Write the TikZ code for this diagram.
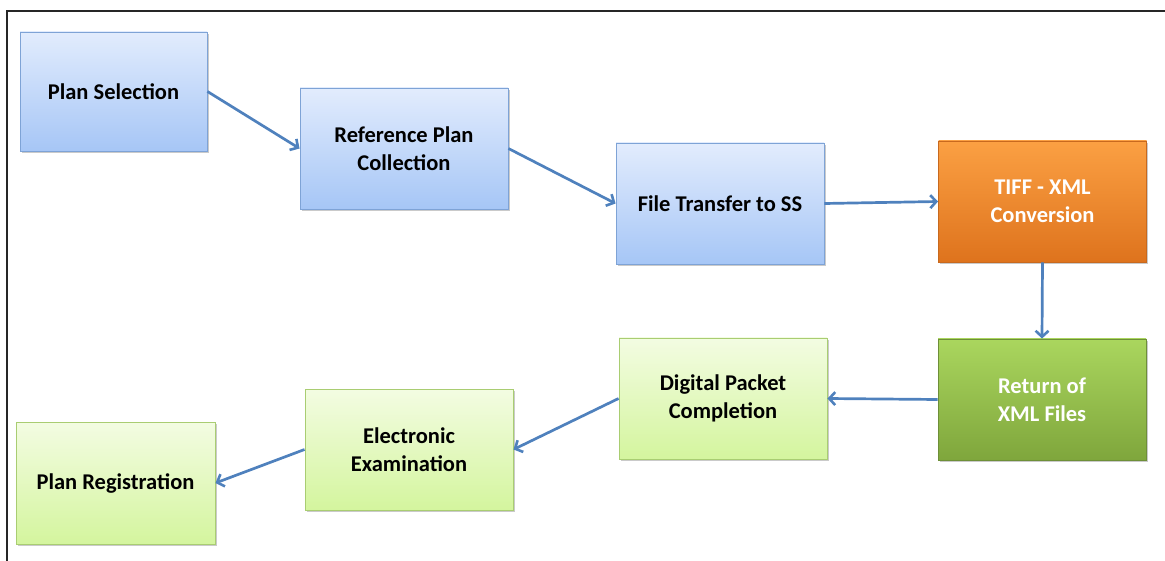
\documentclass[tikz,border=0pt]{standalone}
\usepackage{fontspec}
\setmainfont{Carlito}
\usetikzlibrary{arrows.meta,shadows}
\definecolor{flowblue}{HTML}{4F81BD}
\definecolor{bluetop}{HTML}{E2ECFD}
\definecolor{bluebot}{HTML}{A6C6F6}
\definecolor{blueedge}{HTML}{7EA3D6}
\definecolor{orangetop}{HTML}{FBA043}
\definecolor{orangebot}{HTML}{DE731D}
\definecolor{orangeedge}{HTML}{C8691E}
\definecolor{greentop}{HTML}{AAD65E}
\definecolor{greenbot}{HTML}{7FA63C}
\definecolor{greenedge}{HTML}{6E8F38}
\definecolor{limetop}{HTML}{F3FCE2}
\definecolor{limebot}{HTML}{D4F59E}
\definecolor{limeedge}{HTML}{A9CD72}
\tikzset{
  stage/.style={rectangle, minimum width=208pt, minimum height=121pt, inner sep=0pt,
    line width=0.9pt, align=center, font=\fontsize{22.5}{28}\selectfont\bfseries,
    drop shadow={shadow xshift=1.5pt, shadow yshift=-2pt, opacity=0.35, fill=black!60}},
  bluestage/.style={stage, draw=blueedge, top color=bluetop, bottom color=bluebot, text=black},
  orangestage/.style={stage, draw=orangeedge, top color=orangetop, bottom color=orangebot, text=white},
  greenstage/.style={stage, draw=greenedge, top color=greentop, bottom color=greenbot, text=white},
  limestage/.style={stage, draw=limeedge, top color=limetop, bottom color=limebot, text=black},
  flow/.style={draw=flowblue, line width=2.7pt, -{Straight Barb[length=6pt,width=13pt,line width=2.6pt]}}
}
\begin{document}
\begin{tikzpicture}[x=1pt, y=-1pt]
  \useasboundingbox (0,0) rectangle (1165,561);
  % outer frame (top and left edges)
  \draw[line width=2pt, black!85] (7,561) -- (7,11.5) -- (1165,11.5);

  % upper row
  \node[bluestage, minimum width=187pt, minimum height=119pt] (sel) at (113.5,91.5) {Plan Selection};
  \node[bluestage] (ref) at (404,148.5) {Reference Plan\\Collection};
  \node[bluestage] (xfer) at (720,203.5) {File Transfer to SS};
  \node[orangestage] (conv) at (1042.5,201.5) {TIFF - XML\\Conversion};

  % lower row
  \node[greenstage] (ret) at (1042,399.5) {Return of\\XML Files};
  \node[limestage] (pack) at (723,398.5) {Digital Packet\\Completion};
  \node[limestage] (exam) at (409,449.5) {Electronic\\Examination};
  \node[limestage, minimum width=199pt, minimum height=122pt] (reg) at (115.5,483) {Plan Registration};

  % connectors
  \draw[flow] (sel.east) -- (ref.west);
  \draw[flow] (ref.east) -- (xfer.west);
  \draw[flow] (xfer.east) -- (conv.west);
  \draw[flow] (conv.south) -- (ret.north);
  \draw[flow] (ret.west) -- (pack.east);
  \draw[flow] (pack.west) -- (exam.east);
  \draw[flow] (exam.west) -- (reg.east);
\end{tikzpicture}
\end{document}
